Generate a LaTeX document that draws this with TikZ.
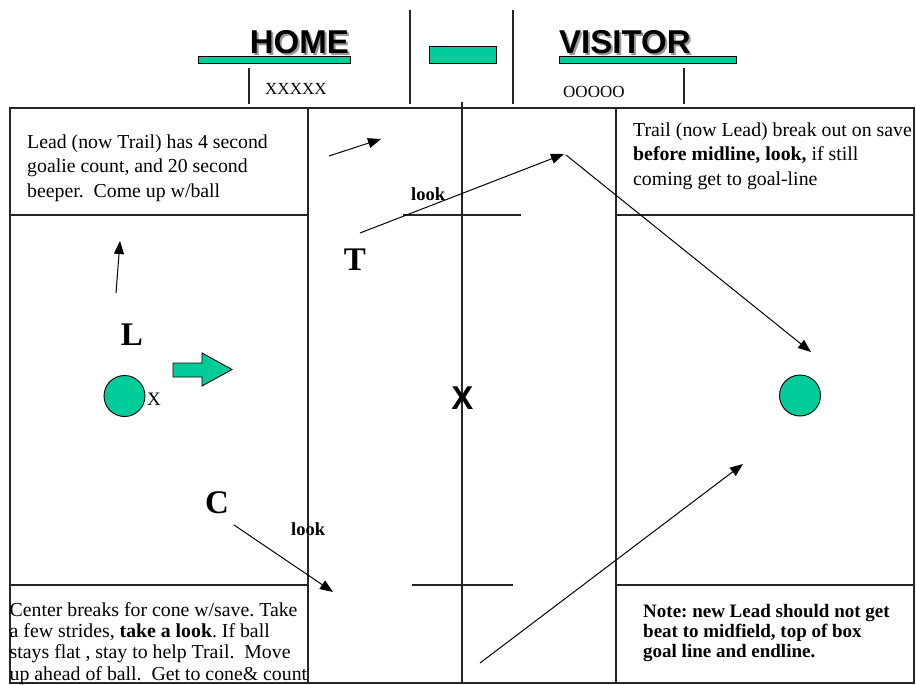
\documentclass[tikz,border=0pt]{standalone}
\usepackage{fontspec}
\setmainfont{Liberation Serif}
\setsansfont{Liberation Sans}
\usetikzlibrary{arrows.meta,positioning}
\definecolor{teamgreen}{RGB}{0,204,153}
\frenchspacing

\begin{document}
\begin{tikzpicture}[x=1pt, y=-1pt,
        line/.style={line width=1.1pt, draw=black!85},
        run/.style={line width=1pt, -{Triangle[length=13pt,width=10pt]}},
        note/.style={inner sep=0pt, anchor=north west, align=left},
        big/.style={font=\bfseries\fontsize{33}{36}\selectfont, inner sep=0pt, anchor=base},
        look/.style={font=\bfseries\fontsize{18.5}{20}\selectfont, inner sep=0pt, anchor=base west},
        team/.style={font=\sffamily\bfseries\fontsize{33}{36}\selectfont, inner sep=0pt},
        bar/.style={fill=teamgreen, draw=black, line width=0.9pt},
        player/.style={circle, fill=teamgreen, draw=black, line width=0.9pt,
          minimum size=41pt, inner sep=0pt}
        ]
        \useasboundingbox (0,0) rectangle (916,685);
        % scoreboard
        \node[team, text=black!40, anchor=base east] at (351,55.5) {HOME};
        \node[team, anchor=base east] (home) at (349,54) {HOME};
        \node[team, text=black!40, anchor=base west] at (561,55.5) {VISITOR};
        \node[team, anchor=base west] (visitor) at (559,54) {VISITOR};
        \draw[bar] (198,56) rectangle (350,63);
        \draw[bar] (429,46) rectangle (496,63);
        \draw[bar] (559,56) rectangle (736,63);
        \draw[line] (410,10) -- (410,104);
        \draw[line] (513,10) -- (513,104);
        \draw[line] (249,68) -- (249,104);
        \draw[line] (684,68) -- (684,104);
        \node[font=\fontsize{17}{19}\selectfont, inner sep=0pt, anchor=base west] (homeplayers) at (265,94.5) {XXXXX};
        \node[font=\fontsize{17}{19}\selectfont, inner sep=0pt, anchor=base west] (visitplayers) at (563,97.5) {OOOOO};
        % field
        \draw[line] (10,108) rectangle (914,683);
        \draw[line] (308,108) -- (308,683);
        \draw[line] (616,108) -- (616,683);
        \draw[line] (462,102) -- (462,683);
        \draw[line] (10,215) -- (308,215);
        \draw[line] (616,215) -- (914,215);
        \draw[line] (10,585) -- (308,585);
        \draw[line] (616,585) -- (914,585);
        \draw[line] (403,215) -- (521,215);
        \draw[line] (412,585) -- (513,585);
        % notes
        \node[note, font=\fontsize{19.8}{24.5}\selectfont] (leadnote) at (27,130.85)
          {\strut Lead (now Trail) has 4 second\\goalie count, and 20 second\\beeper.~ Come up w/ball};
        \node[note, font=\fontsize{19.8}{24.5}\selectfont] (trailnote) at (633,118.85)
          {\strut Trail (now Lead) break out on save\\\textbf{before midline, look,} if still\\coming get to goal-line};
        \node[note, font=\fontsize{19.8}{21.3}\selectfont] (centernote) at (9.5,601.1)
          {\strut Center breaks for cone w/save. Take\\a few strides, \textbf{take a look}. If ball\\stays flat , stay to help Trail.~ Move\\up ahead of ball.~ Get to cone\& count};
        \node[note, font=\bfseries\fontsize{19}{20}\selectfont] (newlead) at (643,603)
          {\strut Note: new Lead should not get\\beat to midfield, top of box\\goal line and endline.};
        % officials and goals
        \node[big] (lead) at (132,345) {L};
        \node[big] (trail) at (355,270) {T};
        \node[big] (center) at (217,513) {C};
        \node[look] (looktop) at (411,200) {look};
        \node[look] (lookbottom) at (291,535) {look};
        \node[player] (lgoal) at (124.5,396) {};
        \node[player] (rgoal) at (800,395.5) {};
        \node[font=\fontsize{19}{21}\selectfont, inner sep=0pt, anchor=base west] (ball) at (147,405) {X};
        \node[team, anchor=base] (midx) at (462.5,409) {X};
        \draw[bar] (173,363) -- (202,363) -- (202,353) -- (232,369.5) -- (202,386) -- (202,377) -- (173,377) -- cycle;
        % runs
        \coordinate (up0) at (116,293);   \coordinate (up1) at (120,241);
        \coordinate (tl0) at (329,156);   \coordinate (tl1) at (381,139);
        \coordinate (tr0) at (360,233);   \coordinate (tr1) at (564,154);
        \coordinate (br0) at (566,155);   \coordinate (br1) at (811,352);
        \coordinate (c0) at (234,525);    \coordinate (c1) at (333,592);
        \coordinate (lg0) at (480,663);   \coordinate (lg1) at (743,464);
        \draw[run] (up0) -- (up1);
        \draw[run] (tl0) -- (tl1);
        \draw[run] (tr0) -- (tr1);
        \draw[run] (br0) -- (br1);
        \draw[run] (c0) -- (c1);
        \draw[run] (lg0) -- (lg1);
      \end{tikzpicture}
\end{document}
